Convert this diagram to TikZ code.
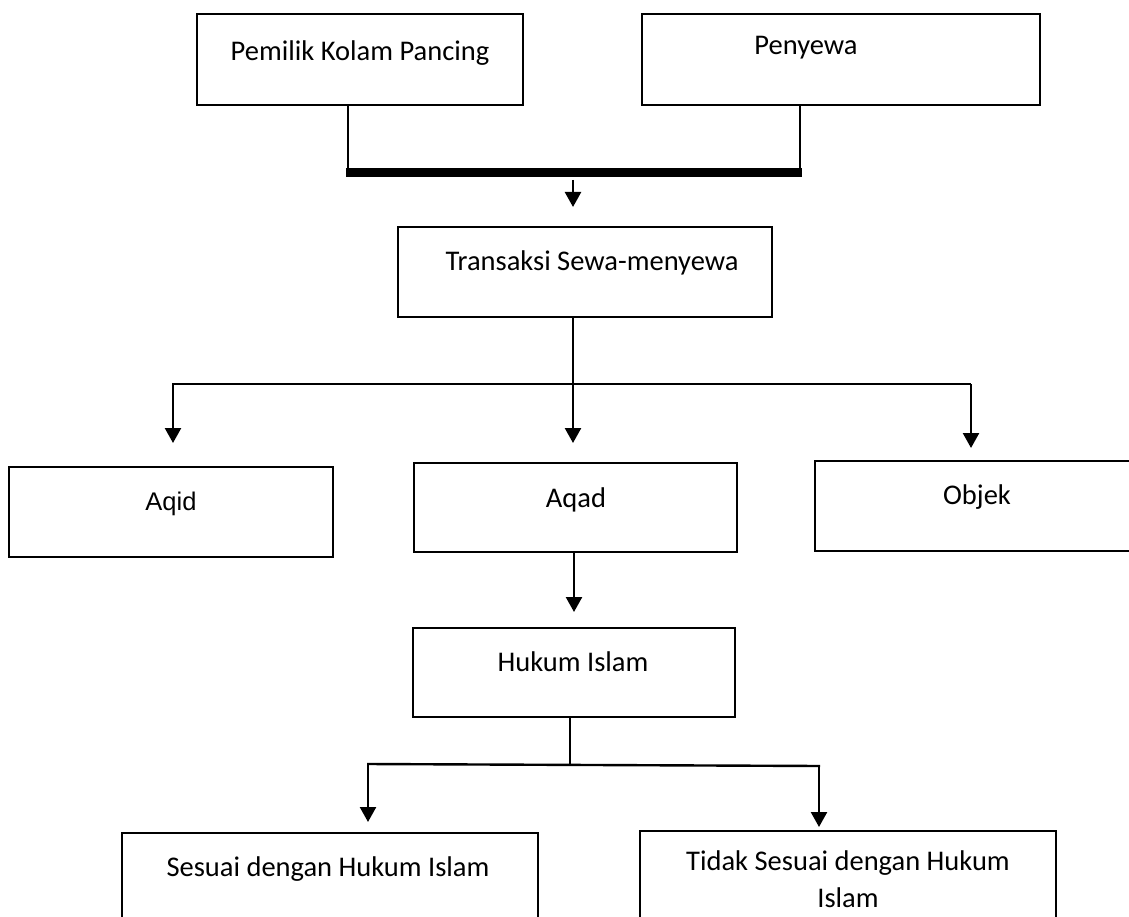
\documentclass[tikz,border=0pt]{standalone}
\usepackage{fontspec}
\setmainfont{Carlito}
\newfontfamily\arialf{Liberation Sans}
\usetikzlibrary{arrows.meta}
\begin{document}
\begin{tikzpicture}[x=1pt,y=-1pt,
  box/.style={draw, line width=2.6pt, inner sep=0pt, rectangle},
  lbl/.style={anchor=base, inner sep=0pt, font=\fontsize{28.5}{34}\selectfont},
  conn/.style={line width=2.4pt},
  arr/.style={line width=2.4pt, -{Triangle[width=16pt,length=15pt]}}]
\useasboundingbox (0,0) rectangle (1129,917);
\clip (0,0) rectangle (1129,917);
% boxes
\node[box, minimum width=326pt, minimum height=91pt] (pem) at (360,59.5) {};
\node[box, minimum width=398pt, minimum height=91pt] (pen) at (841,59.5) {};
\node[box, minimum width=374pt, minimum height=90pt] (trn) at (585,272) {};
\node[box, minimum width=324pt, minimum height=90pt] (aqid) at (171,512) {};
\node[box, minimum width=323pt, minimum height=89pt] (aqad) at (575.5,507.5) {};
\node[box, minimum width=385pt, minimum height=90pt] (obj) at (1007.5,506) {};
\node[box, minimum width=322pt, minimum height=89pt] (huk) at (574,672.5) {};
\node[box, minimum width=416pt, minimum height=127pt] (ses) at (330,896.5) {};
\node[box, minimum width=416pt, minimum height=129pt] (tdk) at (848,895.5) {};
% labels
\node[lbl] (pemt) at (360,61) {Pemilik Kolam Pancing};
\node[lbl] (pent) at (806,55) {Penyewa};
\node[lbl] (trnt) at (592,271) {Transaksi Sewa-menyewa};
\node[lbl, font=\arialf\fontsize{25.5}{30}\selectfont] (aqidt) at (171,510) {Aqid};
\node[lbl] (aqadt) at (576,507) {Aqad};
\node[lbl] (objt) at (977,504) {Objek};
\node[lbl] (hukt) at (573,671) {Hukum Islam};
\node[lbl] (sest) at (328,876) {Sesuai dengan Hukum Islam};
\node[lbl] (tdkt) at (848,870) {Tidak Sesuai dengan Hukum};
\node[lbl] (tdkt2) at (848,907) {Islam};
% junction coordinates
\coordinate (bl) at (348,172.5);
\coordinate (br) at (800,172.5);
\coordinate (t1) at (573,180);
\coordinate (t2) at (573,207);
\coordinate (hl) at (173,384);
\coordinate (hm) at (573,384);
\coordinate (hr) at (971,384);
\coordinate (al) at (173,443);
\coordinate (am) at (573,443);
\coordinate (ar) at (971,448);
\coordinate (k1) at (574,612);
\coordinate (ll) at (368,764);
\coordinate (lm) at (570,765);
\coordinate (lr) at (819,766);
\coordinate (bl2) at (368,822);
\coordinate (br2) at (819,827);
% connectors
\draw[conn] (pem.south -| bl) -- (bl);
\draw[conn] (pen.south -| br) -- (br);
\draw[line width=8.5pt] ([xshift=-2pt]bl) -- ([xshift=2pt]br);
\draw[arr] (t1) -- (t2);
\draw[arr] (trn.south -| hm) -- (am);
\draw[conn] ([xshift=-1pt]hl) -- (hr);
\draw[arr] (hl) -- (al);
\draw[arr] (hr) -- (ar);
\draw[arr] (aqad.south -| k1) -- (k1);
\draw[conn] (huk.south -| lm) -- (lm);
\draw[conn] ([xshift=-1pt]ll) -- ([xshift=1pt]lr);
\draw[arr] (ll) -- (bl2);
\draw[arr] (lr) -- (br2);
\end{tikzpicture}
\end{document}
